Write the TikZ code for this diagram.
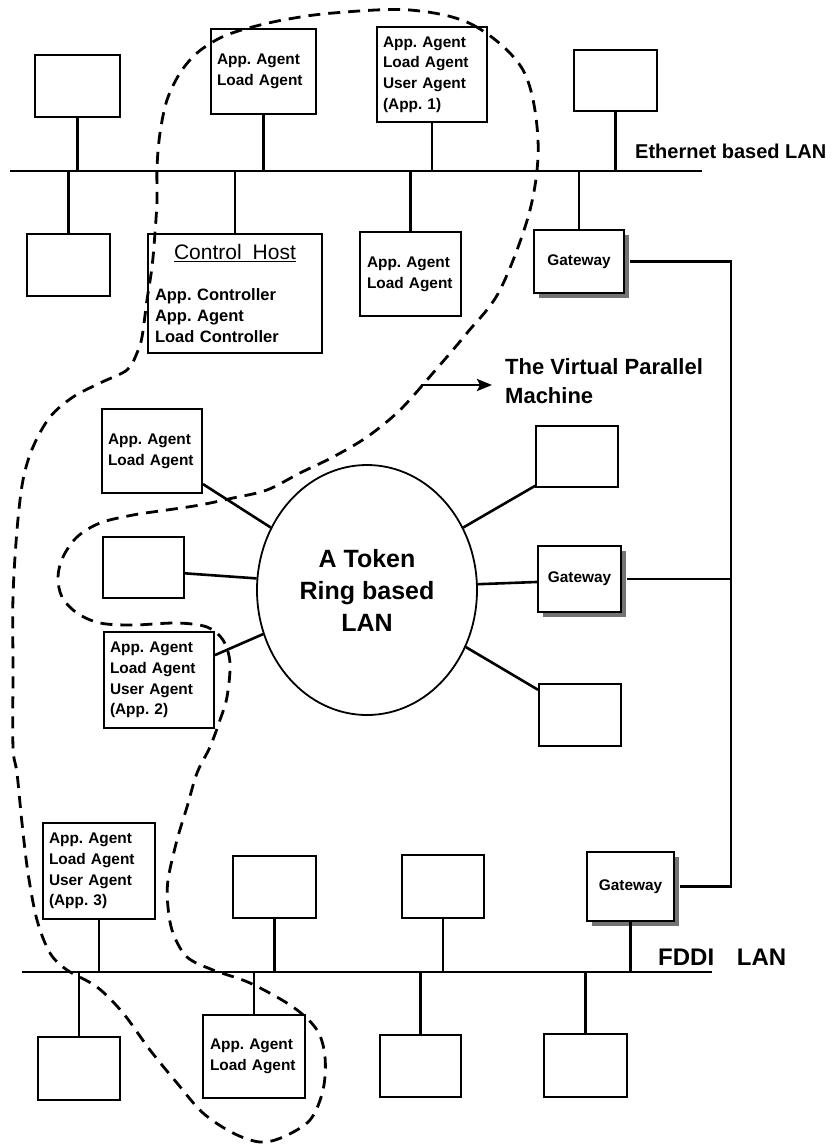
\documentclass[tikz,border=0pt]{standalone}
\usepackage{fontspec}
\setmainfont{Liberation Sans}
\usetikzlibrary{shapes.geometric,shadows,arrows.meta}
\frenchspacing

\newcommand\agentfont{\fontsize{15.4}{20.7}\selectfont\bfseries}
\newcommand\ctlfont{\fontsize{16.5}{21}\selectfont\bfseries}
\newcommand\ctltitlefont{\fontsize{21}{24}\selectfont\mdseries}
\newcommand\ringfont{\fontsize{25}{32}\selectfont\bfseries}
\newcommand\vpmfont{\fontsize{22}{29}\selectfont\bfseries}
\newcommand\ethfont{\fontsize{20}{24}\selectfont\bfseries}
\newcommand\fddifont{\fontsize{24}{28}\selectfont\bfseries}

\begin{document}
\begin{tikzpicture}[x=1pt,y=-1pt,
  hostbox/.style 2 args={draw, line width=1.8pt, rectangle, inner sep=0pt,
    minimum width=#1, minimum height=#2},
  agent/.style={text width=#1, align=left, font=\agentfont},
  gateway/.style={fill=white, font=\agentfont,
    general shadow={fill=black!55, shadow xshift=5pt, shadow yshift=-5pt}},
  bus/.style={line width=2.8pt},
  link/.style={line width=2.6pt},
  vpmline/.style={line width=2.8pt, dash pattern=on 12pt off 8pt},
  label/.style={inner sep=0pt}
]
\useasboundingbox (0,0) rectangle (831,1144);

% ---------------- Ethernet based LAN ----------------
\coordinate (eth-w) at (10,171);
\coordinate (eth-e) at (702,171);
\draw[bus] (eth-w) -- (eth-e);
\node[label, font=\ethfont, anchor=base west] (eth-label) at (635,158) {Ethernet based LAN};

\node[hostbox={85pt}{62pt}] (hA) at (77.5,86) {};
\node[hostbox={105pt}{85pt}, agent=93pt] (hB) at (263.5,71.5) {App. Agent\\Load Agent};
\node[hostbox={110pt}{95pt}, agent=98pt] (hC) at (432,74.5) {App. Agent\\Load Agent\\User Agent\\(App. 1)};
\node[hostbox={83pt}{61pt}] (hD) at (615.5,80.5) {};

\node[hostbox={83pt}{62pt}] (hE) at (68.5,265) {};
\node[hostbox={174pt}{119pt}, text width=160pt, align=left, font=\ctlfont] (ctl) at (235,293.5)
  {\makebox[160pt]{\ctltitlefont\underline{Control\ \ Host}}\\[20pt]App. Controller\\App. Agent\\Load Controller};
\node[hostbox={101pt}{84pt}, agent=87pt] (hF) at (410.5,274) {App. Agent\\Load Agent};
\node[hostbox={90pt}{63pt}, gateway] (gw1) at (579,261.5) {Gateway};

\foreach \n in {hA,hB,hC,hD}
  \draw[link] (\n.south) -- (\n.south |- eth-w);
\foreach \n in {hE,ctl,hF,gw1}
  \draw[link] (\n.north) -- (\n.north |- eth-w);

% ---------------- Token Ring based LAN ----------------
\node[draw, ellipse, line width=1.8pt, minimum width=220pt, minimum height=250pt,
  inner sep=0pt, align=center, font=\ringfont] (ring) at (367,590) {A Token\\Ring based\\LAN};

\node[hostbox={100pt}{84pt}, agent=88pt] (rl1) at (152,451) {App. Agent\\Load Agent};
\node[hostbox={81pt}{61pt}] (rl2) at (143.5,567.5) {};
\node[hostbox={110pt}{96pt}, agent=98pt] (rl3) at (159,680) {App. Agent\\Load Agent\\User Agent\\(App. 2)};
\node[hostbox={82pt}{61pt}] (rr1) at (577,456.5) {};
\node[hostbox={83pt}{66pt}, gateway] (gw2) at (579.5,579) {Gateway};
\node[hostbox={82pt}{62pt}] (rr3) at (580,715) {};

\draw[link] (rl1.-33) -- (ring.147);
\draw[link] (rl2.-8) -- (ring.174);
\draw[link] (rl3.24) -- (ring.203);
\draw[link] (rr1.215) -- (ring.33);
\draw[link] (gw2.184) -- (ring.3);
\draw[link] (rr3.149) -- (ring.-30);

% ---------------- FDDI LAN ----------------
\coordinate (fddi-w) at (22,972);
\coordinate (fddi-e) at (712,972);
\draw[bus] (fddi-w) -- (fddi-e);
\node[label, font=\fddifont, anchor=base west] (fddi-label) at (658,965) {FDDI\hspace{0.95em}LAN};

\node[hostbox={112pt}{96pt}, agent=100pt] (app3) at (99,871) {App. Agent\\Load Agent\\User Agent\\(App. 3)};
\node[hostbox={83pt}{62pt}] (fA) at (274.5,887) {};
\node[hostbox={82pt}{63pt}] (fB) at (443,886.5) {};
\node[hostbox={87pt}{69pt}, gateway] (gw3) at (630.5,886.5) {Gateway};

\node[hostbox={82pt}{63pt}] (fC) at (79,1068.5) {};
\node[hostbox={102pt}{83pt}, agent=88pt] (fD) at (254,1056.5) {App. Agent\\Load Agent};
\node[hostbox={81pt}{62pt}] (fE) at (420.5,1066) {};
\node[hostbox={83pt}{63pt}] (fF) at (585.5,1065.5) {};

\foreach \n in {app3,fA,fB,gw3}
  \draw[link] (\n.south) -- (\n.south |- fddi-w);
\foreach \n in {fC,fD,fE,fF}
  \draw[link] (\n.north) -- (\n.north |- fddi-w);

% ---------------- gateway trunk ----------------
\coordinate (trunk-n) at (731,261.5);
\coordinate (trunk-s) at (731,886.5);
\draw[link] ([xshift=5pt]gw1.east) -- (trunk-n) -- (trunk-s) -- ([xshift=5pt]gw3.east);
\draw[link] ([xshift=5pt]gw2.east) -- (gw2.east -| trunk-n);

% ---------------- the virtual parallel machine ----------------
\node[label, font=\vpmfont, align=left, anchor=west] (vpm) at (505,381.5) {The Virtual Parallel\\Machine};
\coordinate (vpm-tail) at (421,385);
\draw[link, -{Stealth[length=15pt,width=12pt,inset=3pt]}, shorten >=13pt]
  (vpm-tail) -- (vpm-tail -| vpm.west);

\draw[vpmline] plot[smooth cycle, tension=0.55] coordinates {
  (410,10) (473,25) (523,70) (538,140) (530,210) (500,290) (467,333) (433,373)
  (400,410) (367,437) (333,457) (300,473) (267,490) (233,498) (200,505) (167,510)
  (133,515) (100,523) (77,537) (63,557) (58,577) (62,597) (77,613) (100,623)
  (133,625) (177,623) (207,627) (223,640) (230,663) (227,697) (220,720) (210,747)
  (197,773) (187,807) (177,840) (168,880) (168,907) (173,933) (187,957) (213,970)
  (250,983) (293,1007) (317,1030) (325,1057) (323,1090) (310,1120) (283,1137)
  (260,1142) (233,1133) (203,1113) (177,1083) (150,1050) (123,1013) (97,987)
  (67,970) (50,953) (37,920) (28,873) (22,823) (17,773) (13,747) (13,670)
  (13,597) (17,530) (23,480) (33,447) (50,417) (73,397) (100,383) (127,370)
  (137,353) (142,337) (147,300) (152,267) (155,233) (157,200) (157,167) (160,133)
  (167,100) (180,73) (197,53) (220,38) (245,29) (283,20) (333,13)};
\end{tikzpicture}
\end{document}
